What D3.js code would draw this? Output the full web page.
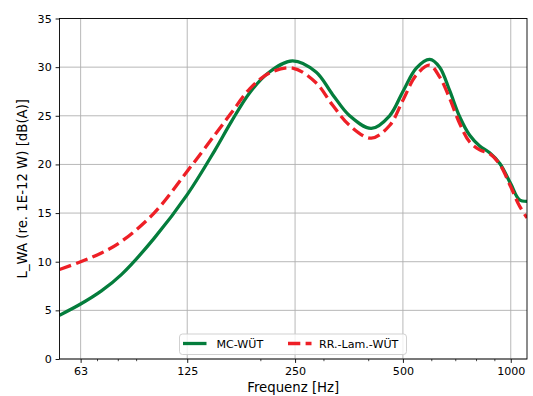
<!DOCTYPE html>
<html>
<head>
<meta charset="utf-8">
<script src="https://cdn.jsdelivr.net/npm/d3@7"></script>
<style>
  html, body { margin: 0; padding: 0; background: #fff; }
  svg { display: block; font-family: "DejaVu Sans", sans-serif; }
</style>
</head>
<body>
<div id="chart"></div>
<script>
// ---- data ----
const freqs = [55, 63, 72, 82, 101, 125, 149, 166, 187, 212, 246, 286, 318, 355, 408, 459, 500, 545, 594, 633, 675, 720, 768, 819, 873, 932, 1000, 1055, 1110];
const mcWut = [4.5, 5.65, 7.0, 8.7, 12.4, 16.9, 21.4, 24.4, 27.4, 29.5, 30.65, 29.5, 27.2, 25.0, 23.7, 25.0, 27.5, 29.9, 30.8, 30.0, 27.6, 24.9, 23.0, 21.9, 21.2, 20.1, 18.0, 16.4, 16.2];
const rrLamWut = [9.2, 10.0, 10.9, 12.1, 15.0, 19.3, 23.0, 25.3, 27.8, 29.4, 29.9, 28.4, 26.1, 24.0, 22.7, 24.0, 26.6, 29.2, 30.2, 29.0, 26.8, 24.2, 22.3, 21.5, 21.1, 20.0, 17.7, 15.8, 14.5];
const seriesNames = ["MC-WÜT", "RR.-Lam.-WÜT"];
const xTicks = [63, 125, 250, 500, 1000];
const xMinorTicks = [70, 80, 90, 200, 300, 400, 600, 700, 800, 900];
const yTicks = [0, 5, 10, 15, 20, 25, 30, 35];
const xDomain = [55, 1110];
const yDomain = [0, 35];
const xLabel = "Frequenz [Hz]";
const yLabel = "L_WA (re. 1E-12 W) [dB(A)]";

// ---- layout ----
const W = 533, H = 396;
const pLeft = 59.5, pRight = 527, pTop = 18.5, pBottom = 359;
const green = "#047d3c", red = "#ee1f26";

const svg = d3.select("#chart").append("svg").attr("width", W).attr("height", H);

const x = d3.scaleLog().domain(xDomain).range([pLeft, pRight]);
const y = d3.scaleLinear().domain(yDomain).range([pBottom, pTop]);

// grid
const grid = svg.append("g");
grid.selectAll("line.gx").data(xTicks).join("line").attr("class", "gx")
  .attr("x1", d => x(d)).attr("x2", d => x(d)).attr("y1", pTop).attr("y2", pBottom)
  .attr("stroke", "#b0b0b0").attr("stroke-width", 0.9);
grid.selectAll("line.gy").data(yTicks).join("line").attr("class", "gy")
  .attr("x1", pLeft).attr("x2", pRight).attr("y1", d => y(d)).attr("y2", d => y(d))
  .attr("stroke", "#b0b0b0").attr("stroke-width", 0.9);

// lines
const line = d3.line().x((d, i) => x(freqs[i])).y(d => y(d)).curve(d3.curveCatmullRom.alpha(0.5));
svg.append("defs").append("clipPath").attr("id", "clip")
  .append("rect").attr("x", pLeft).attr("y", pTop).attr("width", pRight - pLeft).attr("height", pBottom - pTop);
const lines = svg.append("g").attr("clip-path", "url(#clip)");
lines.append("path").datum(mcWut).attr("d", line)
  .attr("fill", "none").attr("stroke", green).attr("stroke-width", 3.3);
lines.append("path").datum(rrLamWut).attr("d", line)
  .attr("fill", "none").attr("stroke", red).attr("stroke-width", 3.3)
  .attr("stroke-dasharray", "12.3,5.3");

// axes
const xAxis = d3.axisBottom(x).tickValues(xTicks).tickFormat(d3.format("d")).tickSizeOuter(0).tickSize(3.9).tickPadding(3.9);
const gx = svg.append("g").attr("transform", `translate(0,${pBottom})`).call(xAxis);
const xMinor = d3.axisBottom(x).tickValues(xMinorTicks).tickFormat("").tickSizeOuter(0).tickSize(2.2);
const gxm = svg.append("g").attr("transform", `translate(0,${pBottom})`).call(xMinor);
gxm.select(".domain").remove();
gxm.selectAll("line").attr("stroke", "#000").attr("stroke-width", 0.7);

const yAxis = d3.axisLeft(y).tickValues(yTicks).tickSizeOuter(0).tickSize(3.9).tickPadding(3.9);
const gy = svg.append("g").attr("transform", `translate(${pLeft},0)`).call(yAxis);

[gx, gy].forEach(g => {
  g.select(".domain").remove();
  g.selectAll(".tick line").attr("stroke", "#000").attr("stroke-width", 0.9);
  g.selectAll("text").attr("font-size", "11.1px").attr("font-family", "DejaVu Sans").attr("fill", "#000");
});

// spines
svg.append("rect").attr("x", pLeft).attr("y", pTop).attr("width", pRight - pLeft).attr("height", pBottom - pTop)
  .attr("fill", "none").attr("stroke", "#000").attr("stroke-width", 0.9);

// axis labels
svg.append("text").attr("x", (pLeft + pRight) / 2).attr("y", 391.5).attr("text-anchor", "middle")
  .attr("font-size", "13.3px").text(xLabel);
svg.append("text").attr("transform", `translate(26.5,${(pTop + pBottom) / 2}) rotate(-90)`)
  .attr("text-anchor", "middle").attr("font-size", "13.3px").text(yLabel);

// legend
const lg = svg.append("g");
lg.append("rect").attr("x", 179.5).attr("y", 334).attr("width", 227).attr("height", 20.5)
  .attr("rx", 3).attr("fill", "#fff").attr("fill-opacity", 0.8)
  .attr("stroke", "#cccccc").attr("stroke-width", 0.9);
const legendItems = [
  { name: seriesNames[0], color: green, dash: null, x0: 183, tx: 216.5 },
  { name: seriesNames[1], color: red, dash: "12.3,5.3", x0: 288, tx: 319 }
];
legendItems.forEach(it => {
  const l = lg.append("line").attr("x1", it.x0).attr("x2", it.x0 + 23.5).attr("y1", 343.5).attr("y2", 343.5)
    .attr("stroke", it.color).attr("stroke-width", 3.3);
  if (it.dash) l.attr("stroke-dasharray", it.dash);
  lg.append("text").attr("x", it.tx).attr("y", 347.5).attr("font-size", "11.1px").text(it.name);
});
</script>
</body>
</html>
